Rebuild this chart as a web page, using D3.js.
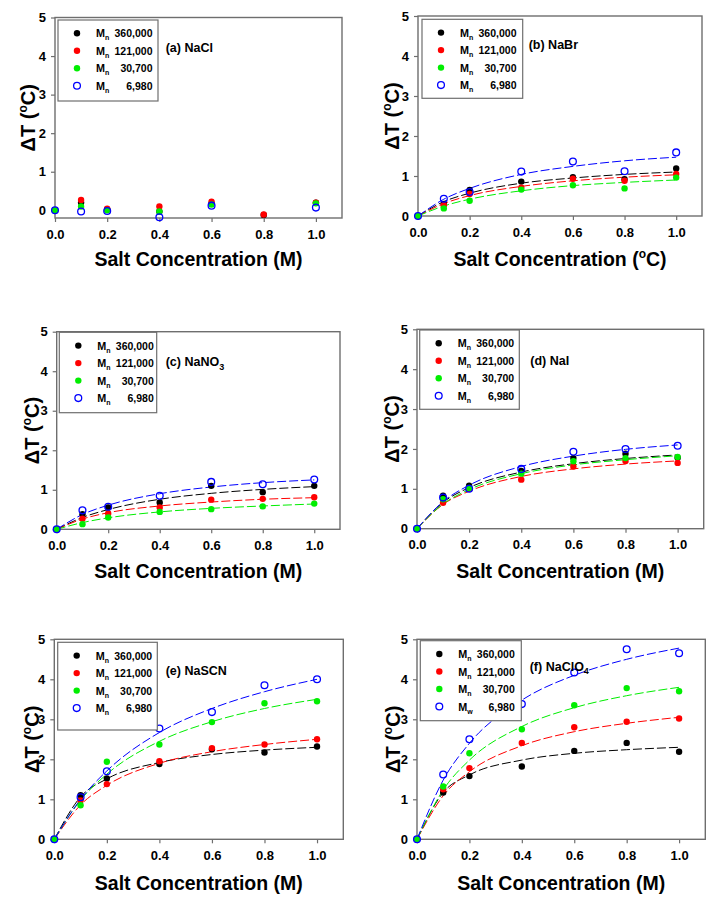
<!DOCTYPE html>
<html><head><meta charset="utf-8">
<script src="https://cdn.jsdelivr.net/npm/d3@7"></script>
<style>
body{margin:0;background:#fff}
svg{display:block}
text{font-family:"Liberation Sans",Arial,Helvetica,sans-serif;font-weight:bold;fill:#000}
</style>
</head><body>
<svg id="chart" width="714" height="897"></svg>
<script>
// ---------- data ----------
const conc = [0, 0.1, 0.2, 0.4, 0.6, 0.8, 1.0];
const fitConc = [0, 0.1, 0.2, 0.4, 0.6, 0.8, 1.0];
const seriesNumbers = ["360,000", "121,000", "30,700", "6,980"];
const seriesColors = ["#000000", "#ff0000", "#00ee00", "#0000ff"];
const xTickValues = [0, 0.2, 0.4, 0.6, 0.8, 1.0];
const yTickValues = [0, 1, 2, 3, 4, 5];

// (a) NaCl
const nacl360 = [0, 0.20, 0.02, -0.03, 0.18, -0.12, 0.20];
const nacl121 = [0, 0.27, 0.04, 0.10, 0.22, -0.11, 0.20];
const nacl30 = [0, 0.10, 0.00, -0.03, 0.15, null, 0.18];
const nacl7 = [0, -0.03, -0.02, -0.18, 0.12, null, 0.07];

// (b) NaBr
const nabr360 = [0, 0.30, 0.65, 0.86, 0.97, 0.92, 1.19];
const nabr121 = [0, 0.27, 0.55, 0.71, 0.93, 0.88, 1.05];
const nabr30 = [0, 0.19, 0.38, 0.66, 0.77, 0.69, 0.96];
const nabr7 = [0, 0.43, 0.60, 1.11, 1.36, 1.12, 1.59];
const nabrFit360 = [0, 0.36, 0.57, 0.82, 0.95, 1.04, 1.10];
const nabrFit121 = [0, 0.31, 0.51, 0.74, 0.88, 0.97, 1.03];
const nabrFit30 = [0, 0.25, 0.42, 0.63, 0.76, 0.84, 0.90];
const nabrFit7 = [0, 0.42, 0.69, 1.04, 1.24, 1.38, 1.47];

// (c) NaNO3
const nano360 = [0, 0.38, 0.55, 0.68, 1.10, 0.94, 1.10];
const nano121 = [0, 0.27, 0.40, 0.55, 0.75, 0.77, 0.81];
const nano30 = [0, 0.13, 0.30, 0.44, 0.51, 0.58, 0.65];
const nano7 = [0, 0.48, 0.57, 0.85, 1.20, 1.14, 1.26];
const nanoFit360 = [0, 0.30, 0.50, 0.76, 0.91, 1.01, 1.08];
const nanoFit121 = [0, 0.26, 0.42, 0.59, 0.69, 0.76, 0.80];
const nanoFit30 = [0, 0.17, 0.29, 0.44, 0.53, 0.59, 0.64];
const nanoFit7 = [0, 0.375, 0.61, 0.90, 1.07, 1.18, 1.25];

// (d) NaI
const nai360 = [0, 0.83, 1.08, 1.45, 1.77, 1.88, 1.78];
const nai121 = [0, 0.65, 1.00, 1.23, 1.56, 1.70, 1.65];
const nai30 = [0, 0.74, 1.02, 1.38, 1.69, 1.77, 1.80];
const nai7 = [0, 0.78, 1.00, 1.50, 1.93, 2.00, 2.08];
const naiFit360 = [0, 0.66, 1.03, 1.42, 1.63, 1.76, 1.85];
const naiFit121 = [0, 0.61, 0.94, 1.31, 1.50, 1.62, 1.70];
const naiFit30 = [0, 0.62, 0.98, 1.38, 1.60, 1.73, 1.83];
const naiFit7 = [0, 0.68, 1.09, 1.56, 1.82, 1.99, 2.10];

// (e) NaSCN
const nascn360 = [0, 1.10, 1.52, 1.88, 2.25, 2.17, 2.32];
const nascn121 = [0, 0.97, 1.38, 1.95, 2.28, 2.37, 2.50];
const nascn30 = [0, 0.85, 1.94, 2.37, 2.93, 3.40, 3.45];
const nascn7 = [0, 1.05, 1.70, 2.77, 3.18, 3.85, 4.00];
const nascnFit360 = [0, 1.06, 1.51, 1.92, 2.12, 2.23, 2.30];
const nascnFit121 = [0, 0.86, 1.35, 1.90, 2.19, 2.37, 2.50];
const nascnFit30 = [0, 0.98, 1.63, 2.45, 2.94, 3.27, 3.50];
const nascnFit7 = [0, 1.00, 1.71, 2.67, 3.27, 3.69, 4.00];

// (f) NaClO4
const naclo360 = [0, 1.17, 1.58, 1.82, 2.21, 2.41, 2.19];
const naclo121 = [0, 1.25, 1.78, 2.41, 2.80, 2.94, 3.02];
const naclo30 = [0, 1.32, 2.15, 2.75, 3.35, 3.78, 3.70];
const naclo7 = [0, 1.62, 2.50, 3.38, 4.17, 4.75, 4.65];
const nacloFit360 = [0, 1.17, 1.61, 1.98, 2.15, 2.24, 2.30];
const nacloFit121 = [0, 1.09, 1.69, 2.34, 2.69, 2.90, 3.05];
const nacloFit30 = [0, 1.235, 1.98, 2.82, 3.29, 3.59, 3.80];
const nacloFit7 = [0, 1.48, 2.40, 3.48, 4.10, 4.50, 4.78];

// ---------- layout ----------
const panels = [
  {x0:55, y0:17.5, x1:342, y1:218, yMin:-0.2, name:"(a) NaCl", sub:"", ldx:110.7, ldy:30,
   leg:{dx:3, dy:2.5, w:100, h:81}, xUnit:"M", xTitleY:259, yTitleX:28,
   pts:[nacl360,nacl121,nacl30,nacl7], fits:null, lastSub:"n"},
  {x0:418, y0:16, x1:702, y1:216, yMin:0, name:"(b) NaBr", sub:"", ldx:110.7, ldy:28.3,
   leg:{dx:4, dy:3.3, w:100.7, h:79}, xUnit:"C", xTitleY:259, yTitleX:392,
   pts:[nabr360,nabr121,nabr30,nabr7], fits:[nabrFit360,nabrFit121,nabrFit30,nabrFit7], lastSub:"n"},
  {x0:56.7, y0:331.7, x1:340, y1:529.3, yMin:0, name:"(c) NaNO", sub:"3", ldx:109, ldy:30,
   leg:{dx:2.6, dy:0.6, w:97.4, h:80.4}, xUnit:"M", xTitleY:571, yTitleX:32,
   pts:[nano360,nano121,nano30,nano7], fits:[nanoFit360,nanoFit121,nanoFit30,nanoFit7], lastSub:"n"},
  {x0:417, y0:329.3, x1:703.7, y1:528.7, yMin:0, name:"(d) NaI", sub:"", ldx:113.3, ldy:31.4,
   leg:{dx:2.7, dy:0.7, w:99.6, h:79.3}, xUnit:"M", xTitleY:571, yTitleX:392,
   pts:[nai360,nai121,nai30,nai7], fits:[naiFit360,naiFit121,naiFit30,naiFit7], lastSub:"n"},
  {x0:54.3, y0:639.3, x1:343.3, y1:839.3, yMin:0, name:"(e) NaSCN", sub:"", ldx:111.4, ldy:30.7,
   leg:{dx:3.4, dy:3, w:99.6, h:87.7}, xUnit:"M", xTitleY:882.7, yTitleX:32,
   pts:[nascn360,nascn121,nascn30,nascn7], fits:[nascnFit360,nascnFit121,nascnFit30,nascnFit7], lastSub:"n"},
  {x0:417, y0:639.3, x1:705.3, y1:839.3, yMin:0, name:"(f) NaClO", sub:"4", ldx:112.7, ldy:26.7,
   leg:{dx:3.3, dy:1.4, w:101, h:80}, xUnit:"M", xTitleY:882.7, yTitleX:393,
   pts:[naclo360,naclo121,naclo30,naclo7], fits:[nacloFit360,nacloFit121,nacloFit30,nacloFit7], lastSub:"w"}
];

const svg = d3.select("#chart");
const frameColor = "#6e6e6e";

panels.forEach(p => {
  const g = svg.append("g");
  const x = d3.scaleLinear().domain([0, 1.1]).range([p.x0, p.x1]);
  const y = d3.scaleLinear().domain([p.yMin, 5]).range([p.y1, p.y0]);

  // axes
  const xAxis = d3.axisBottom(x).tickValues(xTickValues).tickFormat(d3.format(".1f")).tickSize(4).tickPadding(5);
  const yAxis = d3.axisLeft(y).tickValues(yTickValues).tickFormat(d3.format("d")).tickSize(4).tickPadding(5);
  const gx = g.append("g").attr("transform", `translate(0,${p.y1})`).call(xAxis);
  const gy = g.append("g").attr("transform", `translate(${p.x0},0)`).call(yAxis);
  [gx, gy].forEach(a => {
    a.select(".domain").remove();
    a.selectAll(".tick line").attr("stroke", frameColor).attr("stroke-width", 1.2);
    a.selectAll(".tick text").style("font-size", "13px").style("font-weight", "bold")
      .style("font-family", '"Liberation Sans",Arial,sans-serif').attr("fill", "#000");
  });
  gx.selectAll(".tick text").attr("dy", "0.9em");

  // frame
  g.append("rect").attr("x", p.x0).attr("y", p.y0)
    .attr("width", p.x1 - p.x0).attr("height", p.y1 - p.y0)
    .attr("fill", "none").attr("stroke", frameColor).attr("stroke-width", 1.4);

  // fit curves
  if (p.fits) {
    const line = d3.line().x((d, i) => x(fitConc[i])).y(d => y(d)).curve(d3.curveMonotoneX);
    p.fits.forEach((f, si) => {
      g.append("path").attr("d", line(f)).attr("fill", "none")
        .attr("stroke", seriesColors[si]).attr("stroke-width", 1)
        .attr("stroke-dasharray", "9,3");
    });
  }

  // points
  p.pts.forEach((arr, si) => {
    const data = arr.map((v, i) => ({x: conc[i], y: v})).filter(d => d.y !== null);
    g.selectAll(null).data(data).enter().append("circle")
      .attr("cx", d => x(d.x)).attr("cy", d => y(d.y))
      .attr("r", si === 3 ? 3.4 : 3.2)
      .attr("fill", si === 3 ? "none" : seriesColors[si])
      .attr("stroke", seriesColors[si]).attr("stroke-width", si === 3 ? 1.3 : 0);
  });

  // legend
  const lx = p.x0 + p.leg.dx, ly = p.y0 + p.leg.dy;
  g.append("rect").attr("x", lx).attr("y", ly).attr("width", p.leg.w).attr("height", p.leg.h)
    .attr("fill", "#fff").attr("stroke", frameColor).attr("stroke-width", 1.2);
  seriesNumbers.forEach((num, si) => {
    const ry = ly + 13.3 + si * 17.5;
    g.append("circle").attr("cx", lx + 19).attr("cy", ry)
      .attr("r", si === 3 ? 3.4 : 3.2)
      .attr("fill", si === 3 ? "none" : seriesColors[si])
      .attr("stroke", seriesColors[si]).attr("stroke-width", si === 3 ? 1.3 : 0);
    const t = g.append("text").attr("x", lx + 38).attr("y", ry + 4).style("font-size", "10.8px");
    t.append("tspan").text("M");
    t.append("tspan").attr("dy", 3).style("font-size", "7px").text(si === 3 ? p.lastSub : "n");
    g.append("text").attr("x", lx + 94.5).attr("y", ry + 4).attr("text-anchor", "end")
      .style("font-size", "10.5px").text(num);
  });

  // panel label
  const pl = g.append("text").attr("x", p.x0 + p.ldx).attr("y", p.y0 + p.ldy + 4.5).style("font-size", "12.5px");
  pl.append("tspan").text(p.name);
  if (p.sub) pl.append("tspan").attr("dy", 3.5).style("font-size", "9px").text(p.sub);

  // x title
  const xt = g.append("text").attr("x", (p.x0 + p.x1) / 2).attr("y", p.xTitleY + 7)
    .attr("text-anchor", "middle").style("font-size", "19.5px");
  if (p.xUnit === "M") {
    xt.text("Salt Concentration (M)");
  } else {
    xt.append("tspan").text("Salt Concentration (");
    xt.append("tspan").attr("dy", -8).style("font-size", "12px").text("o");
    xt.append("tspan").attr("dy", 8).text("C)");
  }

  // y title
  const ym = (p.y0 + p.y1) / 2;
  const yt = g.append("text").attr("transform", `translate(${p.yTitleX + 7},${ym}) rotate(-90)`)
    .attr("text-anchor", "middle").style("font-size", "20px");
  yt.append("tspan").text("ΔT (");
  yt.append("tspan").attr("dy", -8).style("font-size", "12px").text("o");
  yt.append("tspan").attr("dy", 8).text("C)");
});
</script>
</body></html>
